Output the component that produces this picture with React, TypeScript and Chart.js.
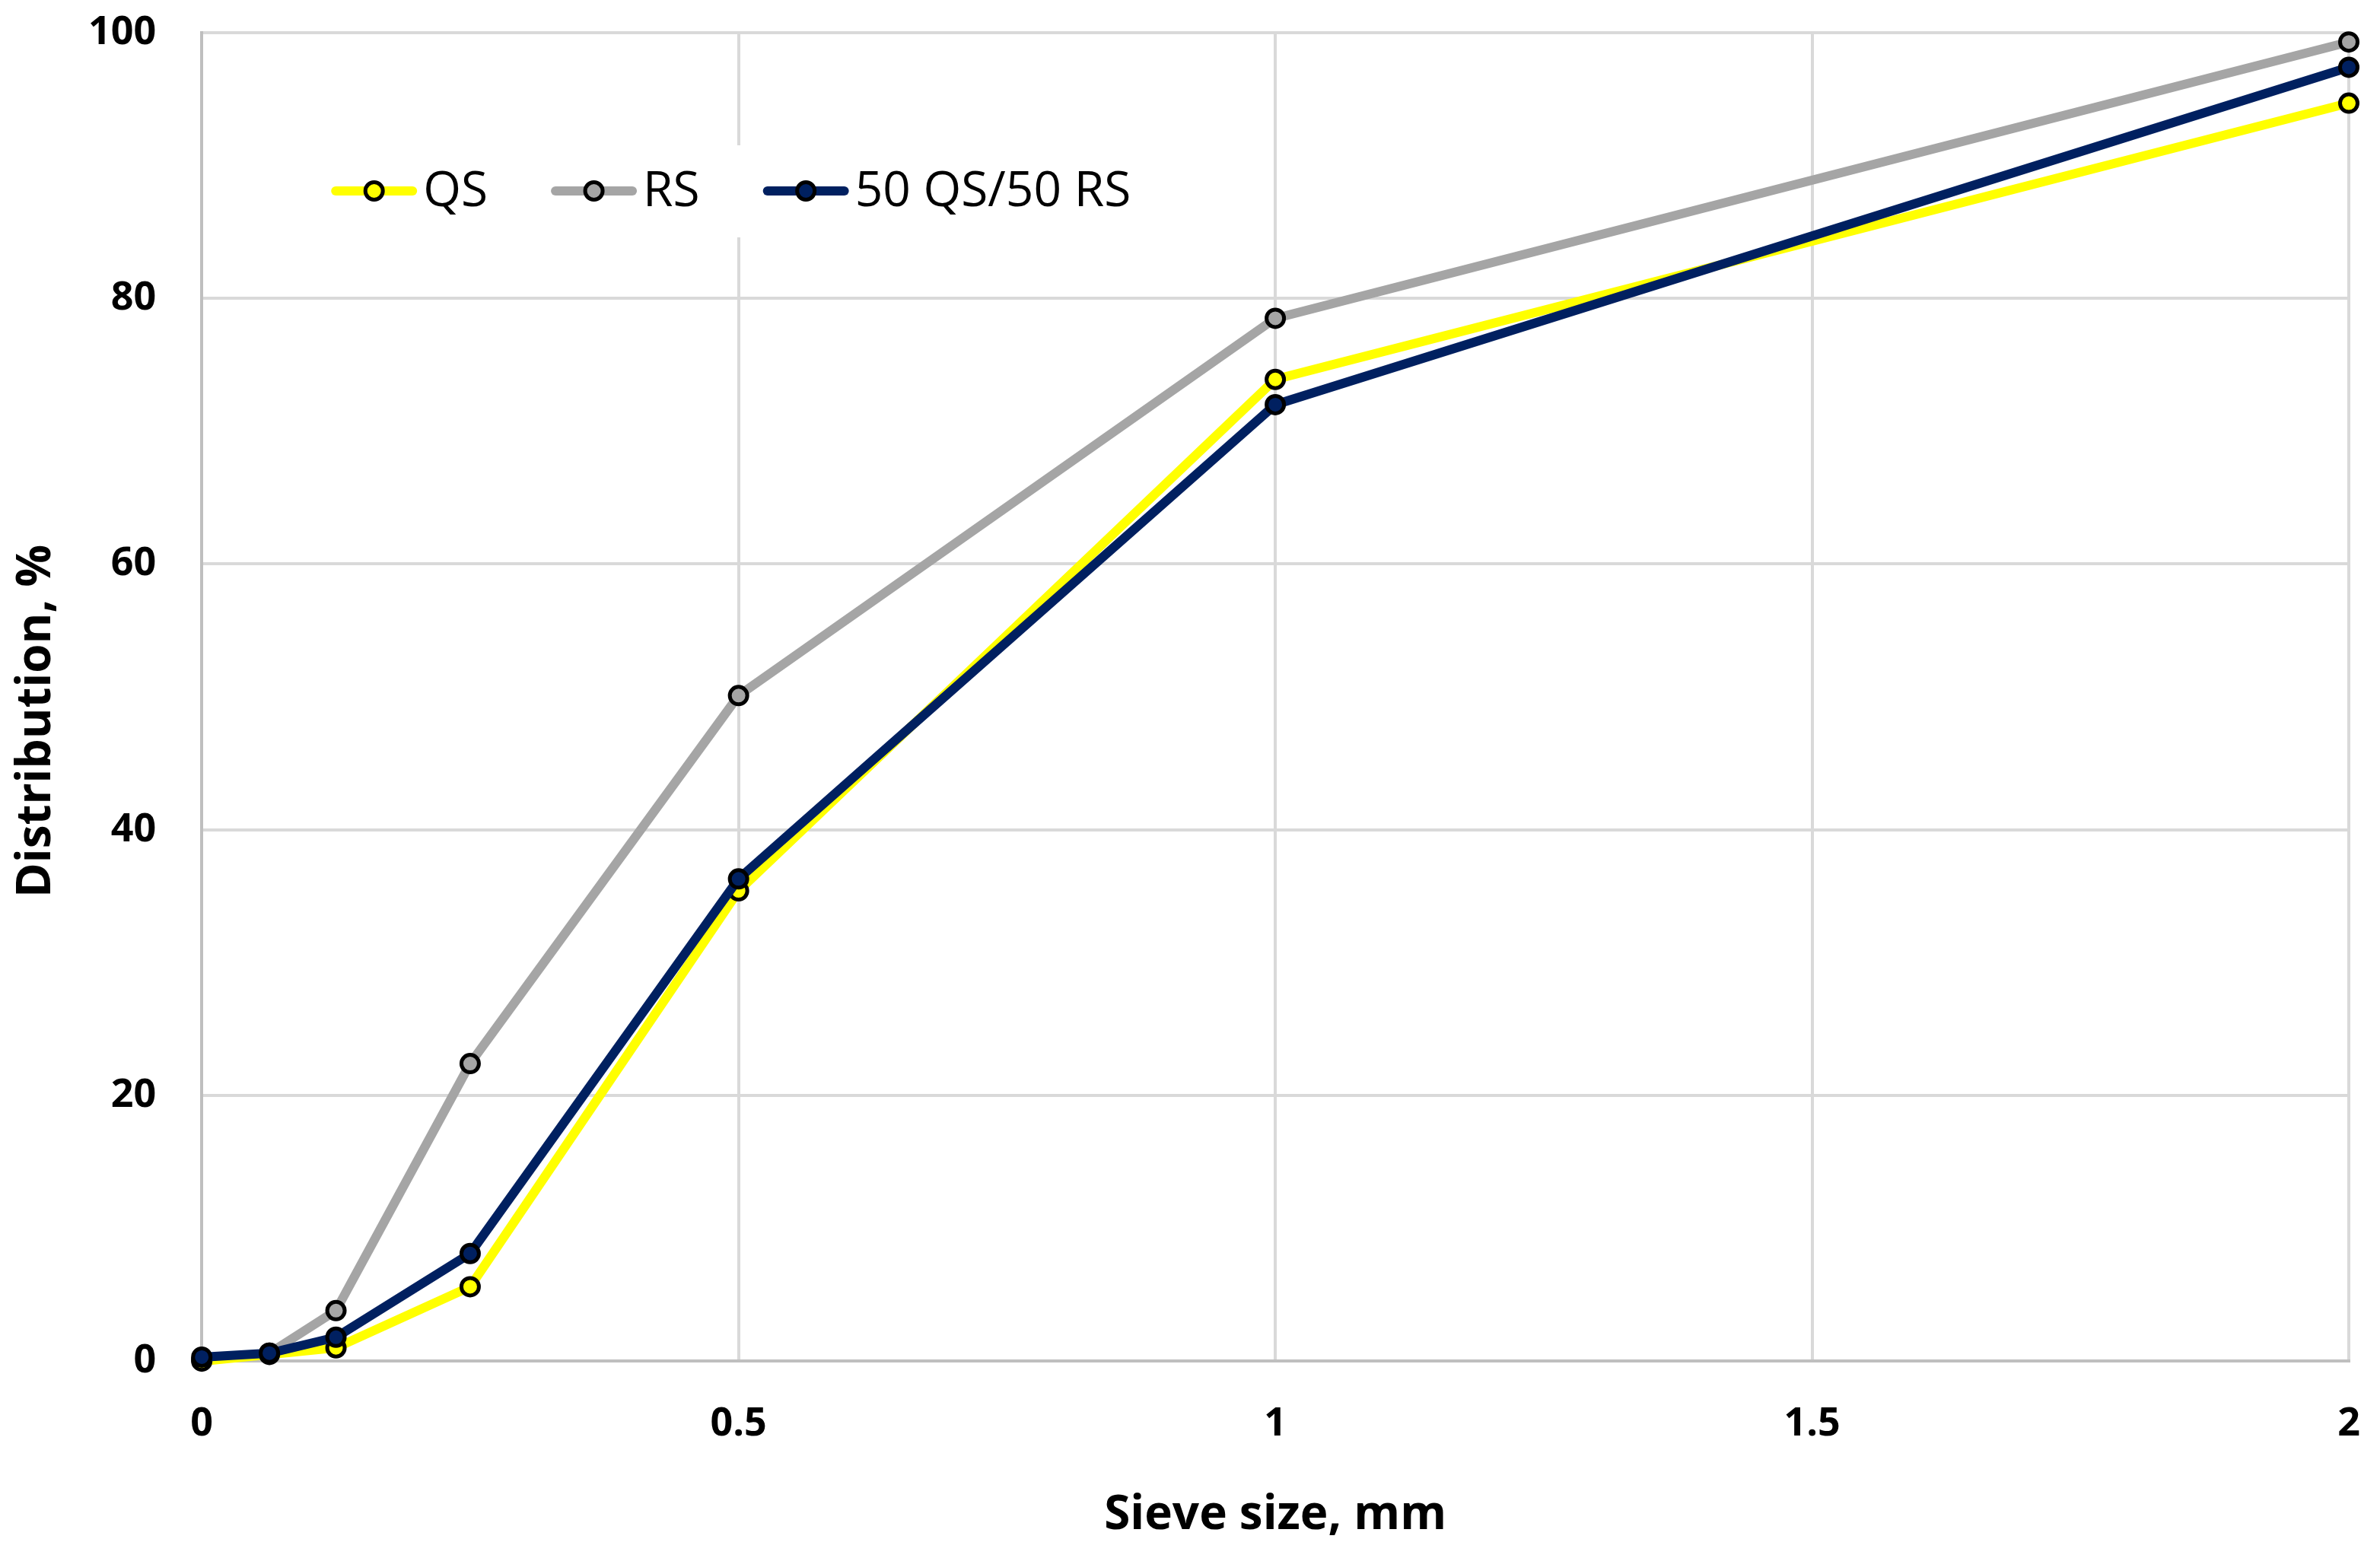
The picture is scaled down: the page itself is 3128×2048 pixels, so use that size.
import React, { useEffect, useRef } from "react";
import { Chart, registerables } from "chart.js";

Chart.register(...registerables);

const SIEVE_SIZES = [0, 0.063, 0.125, 0.25, 0.5, 1, 2];
const QS_VALUES = [0, 0.5, 1.0, 5.6, 35.4, 73.9, 94.7];
const RS_VALUES = [0.1, 0.6, 3.8, 22.4, 50.1, 78.5, 99.3];
const MIX_VALUES = [0.3, 0.6, 1.8, 8.1, 36.3, 72.0, 97.4];
const SERIES_NAMES = ["QS", "RS", "50 QS/50 RS"];
const SERIES_COLORS = ["#FFFF00", "#A5A5A5", "#002060"];
const X_TITLE = "Sieve size, mm";
const Y_TITLE = "Distribution, %";

const FONT = "'Open Sans', 'DejaVu Sans', sans-serif";

const toPoints = (vals: number[]) => SIEVE_SIZES.map((x, i) => ({ x, y: vals[i] }));

const legendPlugin = {
  id: "insideLegend",
  beforeDatasetsDraw(chart: any) {
    const ctx = chart.ctx as CanvasRenderingContext2D;
    const area = chart.chartArea;
    ctx.save();
    const cy = 251;
    ctx.fillStyle = "#ffffff";
    ctx.fillRect(area.left + 130, cy - 60, 1150, 121);
    ctx.font = `400 64px ${FONT}`;
    ctx.textBaseline = "middle";
    ctx.textAlign = "left";
    let x = area.left + 170;
    SERIES_NAMES.forEach((name, i) => {
      const lineW = 113;
      ctx.strokeStyle = SERIES_COLORS[i];
      ctx.lineWidth = 12;
      ctx.lineCap = "round";
      ctx.beginPath();
      ctx.moveTo(x + 6, cy);
      ctx.lineTo(x + lineW - 6, cy);
      ctx.stroke();
      ctx.beginPath();
      ctx.arc(x + lineW / 2, cy, 11.5, 0, Math.PI * 2);
      ctx.fillStyle = SERIES_COLORS[i];
      ctx.fill();
      ctx.lineWidth = 5;
      ctx.strokeStyle = "#000000";
      ctx.stroke();
      ctx.fillStyle = "#000000";
      const tx = x + lineW + 8;
      ctx.fillText(name, tx, cy + 2);
      x = tx + ctx.measureText(name).width + 83;
    });
    ctx.restore();
  },
  afterDraw(chart: any) {
    const ctx = chart.ctx as CanvasRenderingContext2D;
    ctx.save();
    ctx.translate(48, 948);
    ctx.rotate(-Math.PI / 2);
    ctx.font = `700 62px ${FONT}`;
    ctx.fillStyle = "#000000";
    ctx.textAlign = "center";
    ctx.textBaseline = "middle";
    ctx.fillText(Y_TITLE, 0, 0);
    ctx.restore();
  },
};

export default function App() {
  const canvasRef = useRef<HTMLCanvasElement | null>(null);

  useEffect(() => {
    if (!canvasRef.current) return;
    const mk = (i: number, vals: number[], order: number) => ({
      label: SERIES_NAMES[i],
      data: toPoints(vals),
      borderColor: SERIES_COLORS[i],
      backgroundColor: SERIES_COLORS[i],
      pointBackgroundColor: SERIES_COLORS[i],
      pointBorderColor: "#000000",
      pointRadius: 11.5,
      pointBorderWidth: 5,
      borderWidth: 12,
      tension: 0,
      clip: false as any,
      order,
    });
    const chart = new Chart(canvasRef.current, {
      type: "line",
      data: {
        datasets: [mk(1, RS_VALUES, 3), mk(0, QS_VALUES, 2), mk(2, MIX_VALUES, 1)],
      },
      plugins: [legendPlugin],
      options: {
        animation: false,
        responsive: true,
        maintainAspectRatio: false,
        devicePixelRatio: 1,
        layout: { padding: { left: 116, top: 43, right: 41, bottom: 0 } },
        plugins: {
          legend: { display: false },
          tooltip: { enabled: false },
        },
        scales: {
          x: {
            type: "linear",
            min: 0,
            max: 2,
            ticks: {
              stepSize: 0.5,
              padding: 0,
              color: "#000000",
              font: { family: FONT, size: 52, weight: "bold" },
              callback: (v: any) => String(v),
              maxRotation: 0,
            },
            grid: {
              color: "#d9d9d9",
              lineWidth: 4,
              drawTicks: true,
              tickLength: 52,
              tickColor: "rgba(0,0,0,0)",
            },
            border: { color: "#bfbfbf", width: 4 },
            title: {
              display: true,
              text: X_TITLE,
              color: "#000000",
              font: { family: FONT, size: 62, weight: "bold" },
              padding: { top: 52, bottom: 18 },
            },
          },
          y: {
            min: 0,
            max: 100,
            ticks: {
              stepSize: 20,
              padding: 0,
              color: "#000000",
              font: { family: FONT, size: 52, weight: "bold" },
            },
            grid: {
              color: "#d9d9d9",
              lineWidth: 4,
              drawTicks: true,
              tickLength: 60,
              tickColor: "rgba(0,0,0,0)",
            },
            border: { color: "#bfbfbf", width: 4 },
          },
        },
      },
    });
    return () => chart.destroy();
  }, []);

  return (
    <div style={{ position: "absolute", left: 0, top: 0, width: 3128, height: 2048, background: "#fff" }}>
      <canvas ref={canvasRef} />
    </div>
  );
}
